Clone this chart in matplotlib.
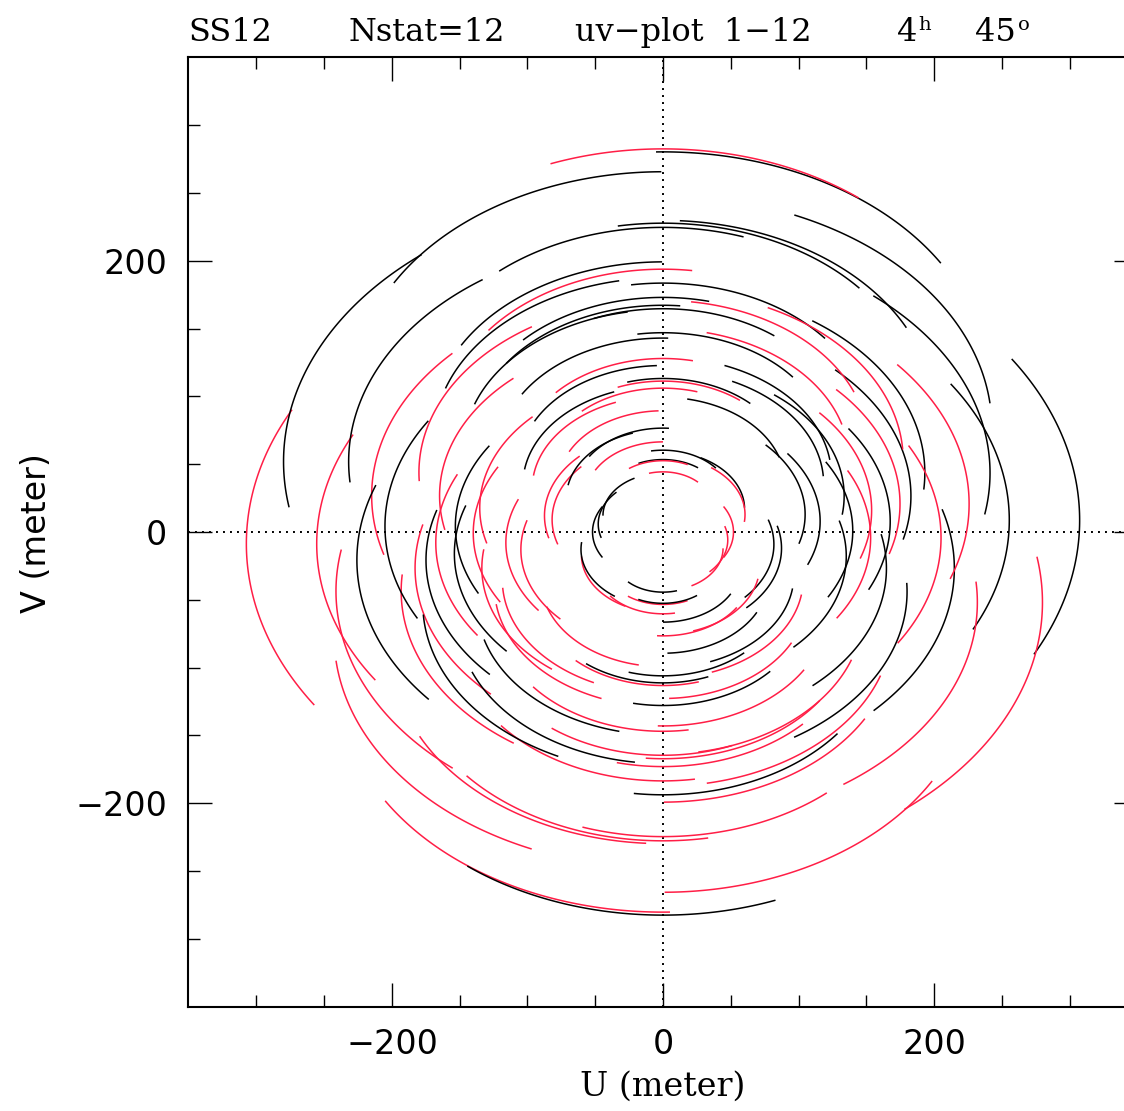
import numpy as np
import matplotlib
matplotlib.use("Agg")
import matplotlib.pyplot as plt
from matplotlib.ticker import FixedLocator

# station positions (east, north in metres), in station order 1..12
stat_east = [-175, -255, -157, -115, -124, 52, 0, -170.5, -59.5, -95, -153, -210.5]
stat_north = [-102.5, -20.5, 63, -18.5, -62.5, 0, 0, -48.7, 159.5, -124, 10, 122]

lat = 53.0      # site latitude (deg)
dec = 45.0      # source declination (deg)
hours = 4.0     # track length (h)
red = "#ff1e46"

W, H = 1124, 1111
fig = plt.figure(figsize=(W / 100, H / 100), dpi=100)
ax = fig.add_axes([188 / W, (H - 1007) / H, 950 / W, 950 / H])

ha = np.radians(np.linspace(-hours / 2, hours / 2, 120) * 15)
sphi, cphi = np.sin(np.radians(lat)), np.cos(np.radians(lat))
sdec, cdec = np.sin(np.radians(dec)), np.cos(np.radians(dec))
nst = len(stat_east)
for i in range(nst):
    for j in range(i + 1, nst):
        e = stat_east[j] - stat_east[i]
        n = stat_north[j] - stat_north[i]
        lx, ly, lz = -n * sphi, e, n * cphi
        u = lx * np.sin(ha) + ly * np.cos(ha)
        v = -lx * sdec * np.cos(ha) + ly * sdec * np.sin(ha) + lz * cdec
        ax.plot(u, v, color="black", lw=1.1)
        ax.plot(-u, -v, color=red, lw=1.1)

ax.axhline(0, color="black", lw=1.4, ls=(0, (1, 2.6)), zorder=0)
ax.axvline(0, color="black", lw=1.4, ls=(0, (1, 2.6)), zorder=0)

ax.set_xlim(-350.5, 350.5)
ax.set_ylim(-350.5, 350.5)
minor = FixedLocator(np.arange(-300, 301, 50))
ax.xaxis.set_minor_locator(minor)
ax.yaxis.set_minor_locator(minor)
ax.tick_params(which="both", direction="in", top=True, right=True, width=1.0)
ax.tick_params(which="major", length=17, pad=15, labelsize=24)
ax.tick_params(which="minor", length=8.5)
for s in ax.spines.values():
    s.set_linewidth(1.5)
ax.set_xticks([-200, 0, 200])
ax.set_yticks([-200, 0, 200])
ax.set_xticklabels(["\u2212200", "0", "200"])
ax.set_yticklabels(["\u2212200", "0", "200"])

serif = "DejaVu Serif"
ty = 1 - 41 / H
fig.text(188 / W, ty, "SS12", family=serif, fontsize=23, va="baseline")
fig.text(348 / W, ty, "Nstat=12", family=serif, fontsize=23, va="baseline")
fig.text(575 / W, ty, "uv\u2212plot  1\u221212", family=serif, fontsize=23, va="baseline")
fig.text(897 / W, ty, "4", family=serif, fontsize=23, va="baseline")
fig.text(918 / W, 1 - 30 / H, "h", family=serif, fontsize=14, va="baseline")
fig.text(975 / W, ty, "45", family=serif, fontsize=23, va="baseline")
fig.text(1018 / W, 1 - 30 / H, "o", family=serif, fontsize=14, va="baseline")

fig.text(663 / W, 1 - 1087 / H, "U (meter)", family=serif, fontsize=24,
         ha="center", va="center")
fig.text(36 / W, 1 - 533 / H, "V (meter)", family="DejaVu Sans", fontsize=24,
         ha="center", va="center", rotation=90)

fig.savefig("out.png", dpi=100)
